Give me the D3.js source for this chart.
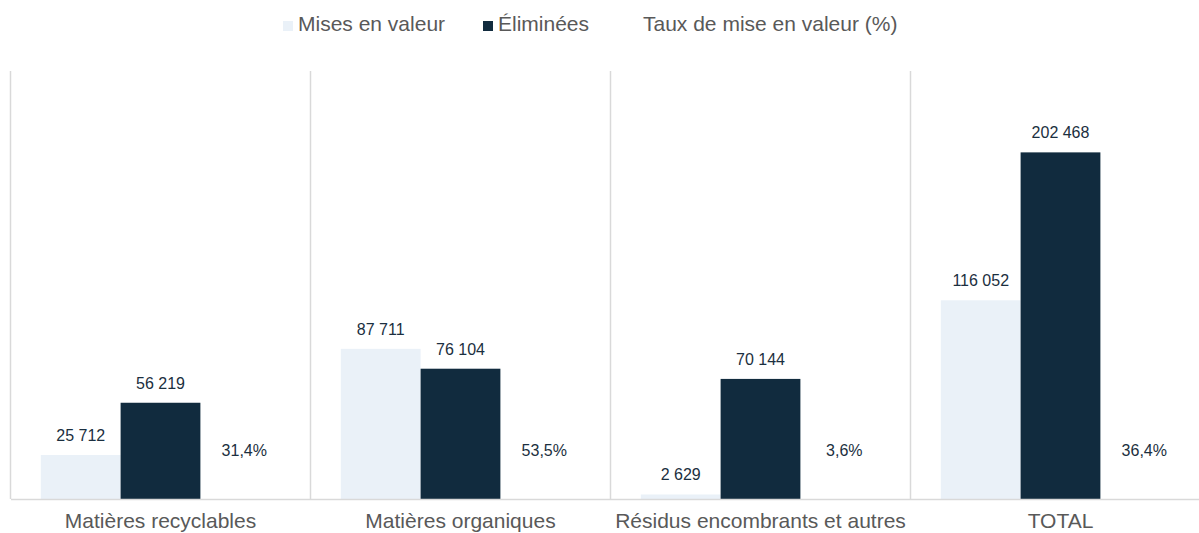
<!DOCTYPE html>
<html>
<head>
<meta charset="utf-8">
<script src="https://cdn.jsdelivr.net/npm/d3@7"></script>
<style>
  body { margin: 0; background: #fff; }
  svg { font-family: "Liberation Sans", Arial, sans-serif; }
</style>
</head>
<body>
<svg id="chart"></svg>
<script>
const categories = ["Matières recyclables", "Matières organiques", "Résidus encombrants et autres", "TOTAL"];
const misesEnValeur = [25712, 87711, 2629, 116052];
const eliminees = [56219, 76104, 70144, 202468];
const tauxMiseEnValeur = [31.4, 53.5, 3.6, 36.4];
const seriesNames = ["Mises en valeur", "Éliminées", "Taux de mise en valeur (%)"];

const width = 1199, height = 533;
const colors = ["#eaf1f8", "#112b3e"];
const fmt = v => d3.format(",")(v).replace(/,/g, " ");

const svg = d3.select('#chart').attr('width', width).attr('height', height);

// plot extends past the right edge, like the original export
const x0 = d3.scaleBand().domain(categories).range([10.5, 1210.5]).padding(0);
const x1 = d3.scaleBand().domain([0, 1, 2]).range([0, x0.bandwidth()])
             .paddingInner(0).paddingOuter(0.38);
const y = d3.scaleLinear().domain([0, 250000]).range([499, 71]);

// separators between categories
svg.append("g").selectAll("line")
   .data(categories)
   .enter().append("line")
   .attr("x1", d => x0(d)).attr("x2", d => x0(d))
   .attr("y1", y(250000)).attr("y2", y(0))
   .attr("stroke", "#d9d9d9").attr("stroke-width", 1.5);

const groups = svg.append("g").selectAll("g")
   .data(categories)
   .enter().append("g")
   .attr("transform", d => `translate(${x0(d)},0)`);

[misesEnValeur, eliminees].forEach((vals, s) => {
  groups.append("rect")
    .attr("x", x1(s))
    .attr("width", x1.bandwidth())
    .attr("y", (d, i) => y(vals[i]))
    .attr("height", (d, i) => y(0) - y(vals[i]))
    .attr("fill", colors[s]);

  groups.append("text")
    .attr("x", x1(s) + x1.bandwidth() / 2)
    .attr("y", (d, i) => y(vals[i]) - 14)
    .attr("text-anchor", "middle")
    .attr("font-size", 16)
    .attr("fill", "#1b2f40")
    .text((d, i) => fmt(vals[i]));
});

// rate labels (line series itself is not drawn)
groups.append("text")
  .attr("x", x1(2) + x1.bandwidth() / 2 + 4)
  .attr("y", 456)
  .attr("text-anchor", "middle")
  .attr("font-size", 16)
  .attr("fill", "#1b2f40")
  .text((d, i) => d3.format(".1f")(tauxMiseEnValeur[i]).replace(".", ",") + "%");

// baseline + category axis
const xAxis = svg.append("g").attr("transform", `translate(0,${y(0)})`)
  .call(d3.axisBottom(x0).tickSize(0).tickPadding(14));
xAxis.select(".domain").attr("stroke", "#d9d9d9").attr("stroke-width", 1.5);
xAxis.selectAll("text")
  .attr("font-size", 21)
  .attr("font-family", "Liberation Sans, Arial, sans-serif")
  .attr("fill", "#595959");

// legend
const legend = svg.append("g").attr("font-size", 21).attr("fill", "#595959");
const legendX = [283, 483, 631];
seriesNames.forEach((name, i) => {
  const g = legend.append("g").attr("transform", `translate(${legendX[i]},0)`);
  if (i < 2) {
    g.append("rect").attr("width", 10).attr("height", 10).attr("y", 21).attr("fill", colors[i]);
  }
  g.append("text").attr("x", i < 2 ? 15 : 12).attr("y", 31).text(name);
});
</script>
</body>
</html>
